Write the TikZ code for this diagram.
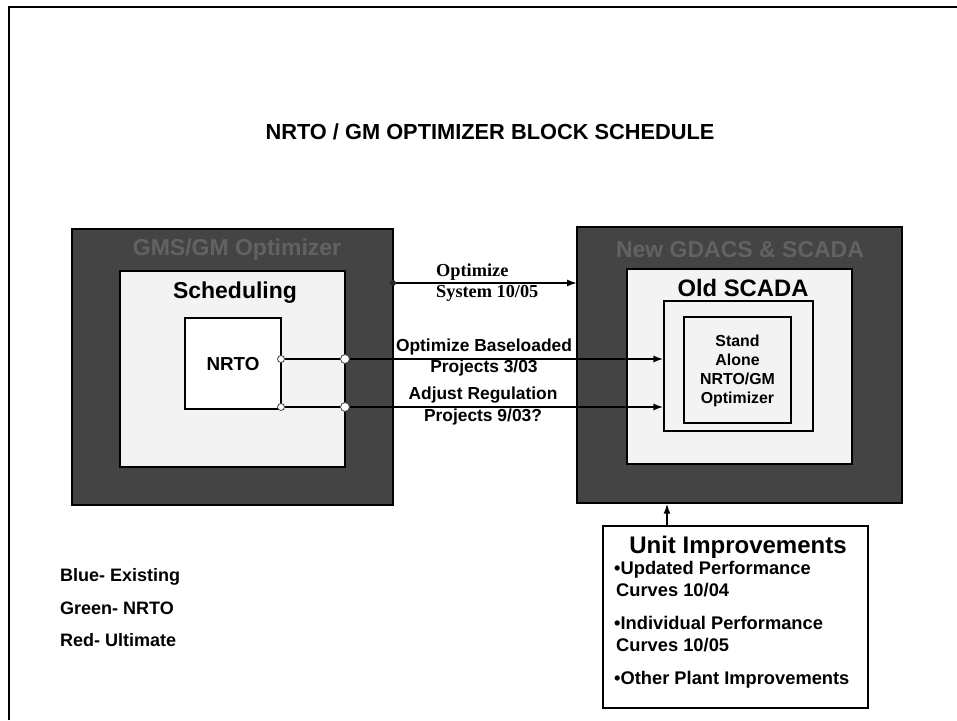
\documentclass[tikz,border=0pt]{standalone}
\usepackage{fontspec}
\setmainfont{Liberation Sans}
\newfontfamily\timesbf{Liberation Serif}
\usetikzlibrary{arrows.meta,positioning}
\definecolor{slate}{RGB}{68,68,68}
\definecolor{slatetxt}{RGB}{98,98,98}
\definecolor{paper}{RGB}{243,243,243}

\begin{document}
\begin{tikzpicture}[x=1pt,y=-1pt,
  dark/.style={draw=black,line width=1.4pt,fill=slate,inner sep=0pt},
  lite/.style={draw=black,line width=1.4pt,fill=paper,inner sep=0pt},
  plain/.style={draw=black,line width=1.4pt,fill=white,inner sep=0pt},
  hd/.style={font=\bfseries\fontsize{23}{26}\selectfont},
  lbl/.style={font=\bfseries\fontsize{17.4}{21.5}\selectfont,align=center,inner sep=0pt},
  leg/.style={font=\bfseries\fontsize{18}{21}\selectfont,anchor=west,inner sep=0pt},
  port/.style={circle,draw=black!75,fill=white,line width=0.8pt,inner sep=0pt,minimum size=#1},
  dot/.style={circle,fill=black!85,inner sep=0pt,minimum size=6pt},
  wire/.style={line width=1.6pt},
  >={Latex[length=10pt,width=7pt]}]
\useasboundingbox (0,0) rectangle (957,720);
% page frame
\draw[line width=2pt] (9,720) -- (9,7) -- (957,7);
\node[font=\bfseries\fontsize{21.8}{24}\selectfont] (title) at (490,132) {NRTO / GM OPTIMIZER BLOCK SCHEDULE};

% left block
\node[dark,minimum width=321pt,minimum height=276pt] (gms) at (232.5,367) {};
\node[hd,text=slatetxt] (gmstxt) at (237,250) {GMS/GM Optimizer};
\node[lite,minimum width=225pt,minimum height=196pt] (sched) at (232.5,369) {};
\node[hd] (schedtxt) at (235,293) {Scheduling};
\node[plain,minimum width=96pt,minimum height=91pt] (nrto) at (233,363.5) {};
\node[font=\bfseries\fontsize{18.8}{22}\selectfont] (nrtotxt) at (233,364) {NRTO};

% right block
\node[dark,minimum width=325pt,minimum height=276pt] (gdacs) at (739.5,365) {};
\node[hd,text=slatetxt] (gdacstxt) at (740,250) {New GDACS \& SCADA};
\node[lite,minimum width=225pt,minimum height=195pt] (scada) at (739.5,366.5) {};
\node[hd,font=\bfseries\fontsize{23.8}{26}\selectfont] (scadatxt) at (743,288) {Old SCADA};
\node[plain,fill=paper,minimum width=149pt,minimum height=130pt] (mid) at (738.5,366) {};
\node[plain,fill=paper,minimum width=107pt,minimum height=106pt] (solo) at (737.5,370) {};
\node[font=\bfseries\fontsize{15.9}{19}\selectfont,align=center] (solotxt) at (737.5,371) {Stand\\Alone\\NRTO/GM\\Optimizer};

% ports
\node[port=7pt] (n1) at (281,359) {};
\node[port=7pt] (n2) at (281,407) {};
\node[port=9pt] (p1) at (345,359) {};
\node[port=9pt] (p2) at (345,407) {};
\node[dot] (d0) at (393,283) {};
\coordinate (t0) at (577,283);

% connectors
\draw[wire,->] (d0) -- (t0);
\draw[wire] (n1) -- (p1);
\draw[wire] (n2) -- (p2);
\draw[wire,->] (p1) -- (p1 -| mid.west);
\draw[wire,->] (p2) -- (p2 -| mid.west);
\node[font=\timesbf\bfseries\fontsize{18.3}{21}\selectfont,align=left,anchor=west,inner sep=0pt] (lbl0) at (436,283) {Optimize\\System 10/05};
\node[lbl] (lbl1) at (484,357.5) {Optimize Baseloaded\\Projects 3/03};
\node[lbl] (lbl2) at (483,406) {Adjust Regulation\\Projects 9/03?};

% unit improvements
\node[plain,minimum width=265pt,minimum height=182pt] (unit) at (735.5,617) {};
\draw[wire,->] (unit.north -| 667,0) -- (gdacs.south -| 667,0);
\node[font=\bfseries\fontsize{24}{26}\selectfont] (unittxt) at (738,547) {Unit Improvements};
\node[font=\bfseries\fontsize{18.3}{22}\selectfont,align=left,anchor=west,inner sep=0pt] (unitlist) at (614,624.5)
  {•Updated Performance\\\hspace*{2pt}Curves 10/04\\[11pt]•Individual Performance\\\hspace*{2pt}Curves 10/05\\[11pt]•Other Plant Improvements};

% legend
\node[leg] (blue) at (60,577) {Blue- Existing};
\node[leg] (green) at (60,608) {Green- NRTO};
\node[leg] (red) at (60,640) {Red- Ultimate};
\end{tikzpicture}
\end{document}
